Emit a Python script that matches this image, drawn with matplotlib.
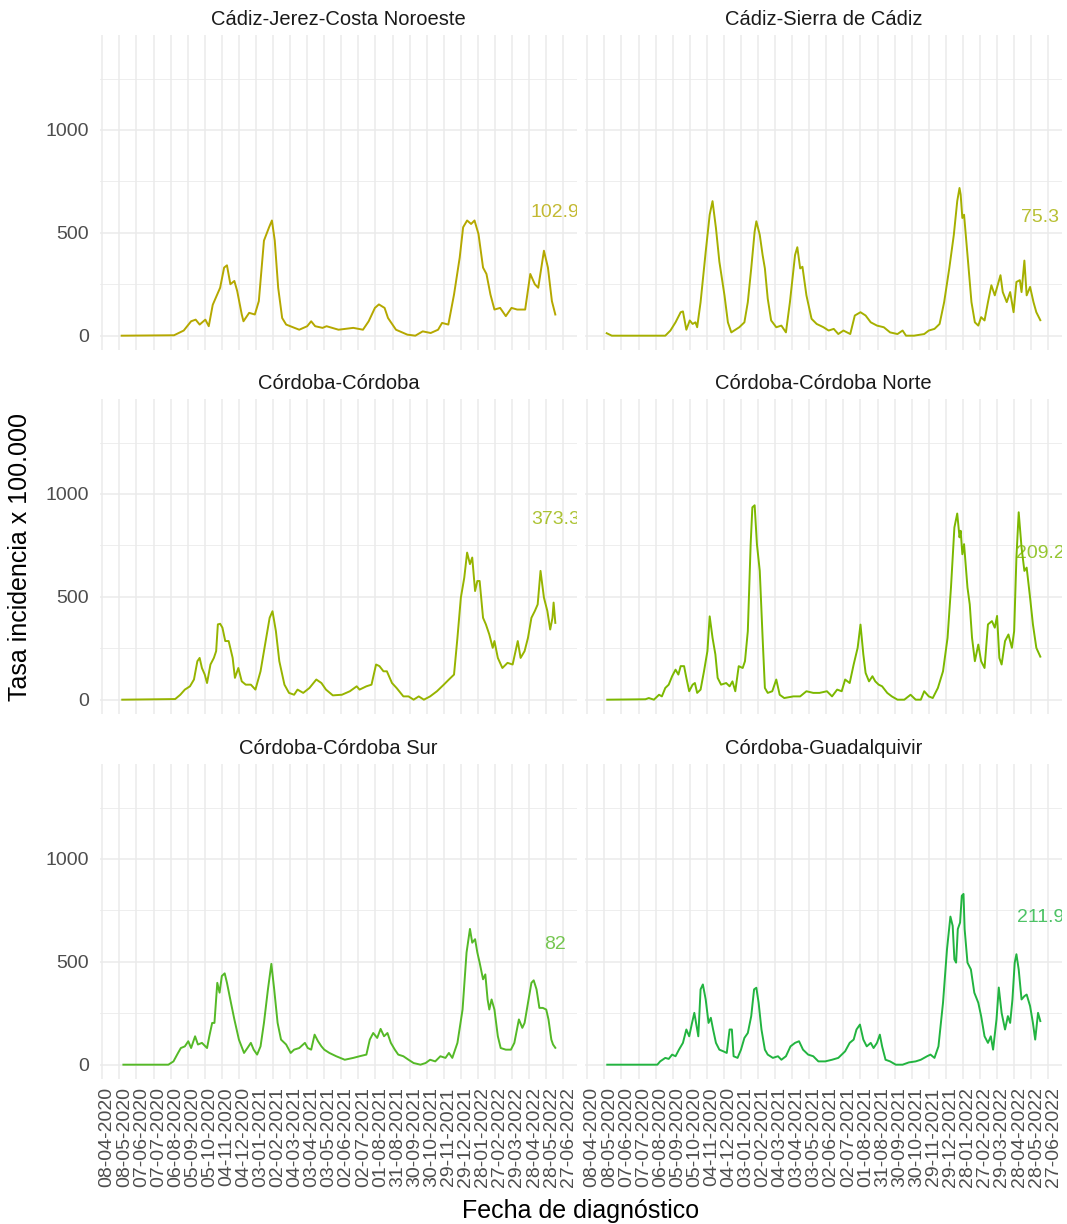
import numpy as np
import pandas as pd
import matplotlib
matplotlib.use("Agg")
import matplotlib.pyplot as plt
import matplotlib.dates as mdates
from matplotlib.transforms import ScaledTranslation

plt.rcParams['font.family'] = ['Liberation Sans', 'DejaVu Sans']

# fecha de referencia: los días se cuentan desde aquí
inicio = np.datetime64('2020-04-08')

distritos = ['Cádiz-Jerez-Costa Noroeste', 'Cádiz-Sierra de Cádiz',
             'Córdoba-Córdoba', 'Córdoba-Córdoba Norte',
             'Córdoba-Córdoba Sur', 'Córdoba-Guadalquivir']
colores = ['#B5A800', '#A6B000', '#97B400', '#7CB800', '#55B927', '#22B440']

etiquetas = ['102.9', '75.3', '373.3', '209.2', '82', '211.9']
etiqueta_y = [597, 573, 874, 713, 583, 714]

fechas_ticks = ['08-04-2020', '08-05-2020', '07-06-2020', '07-07-2020', '06-08-2020',
                '05-09-2020', '05-10-2020', '04-11-2020', '04-12-2020', '03-01-2021',
                '02-02-2021', '04-03-2021', '03-04-2021', '03-05-2021', '02-06-2021',
                '02-07-2021', '01-08-2021', '31-08-2021', '30-09-2021', '30-10-2021',
                '29-11-2021', '29-12-2021', '28-01-2022', '27-02-2022', '29-03-2022',
                '28-04-2022', '28-05-2022', '27-06-2022']

# --- Cádiz-Jerez-Costa Noroeste
dias_jerez = [34, 126, 143, 156, 164, 171, 181, 187, 194, 207, 214, 219, 225, 232, 237,
              245, 248, 258, 268, 275, 284, 293, 298, 303, 309, 316, 323, 346, 360, 367,
              374, 387, 394, 415, 441, 458, 468, 479, 486, 496, 502, 516, 536, 550, 563,
              577, 590, 597, 608, 618, 628, 634, 641, 648, 654, 661, 669, 675, 682, 689,
              699, 709, 719, 729, 743, 752, 760, 766, 776, 783, 790, 796]
tasa_jerez = [0, 2, 25, 70, 78, 54, 78, 46, 150, 233, 331, 342, 250, 266, 217,
              103, 70, 111, 103, 168, 462, 527, 560, 462, 233, 86, 54, 29, 46, 70,
              46, 38, 46, 29, 38, 29, 70, 135, 152, 135, 86, 29, 5, 0, 21,
              13, 29, 62, 54, 200, 380, 527, 560, 543, 560, 494, 331, 300, 200, 127,
              135, 95, 135, 127, 127, 300, 250, 233, 413, 331, 168, 102.9]

# --- Cádiz-Sierra de Cádiz
dias_sierra = [34, 43, 137, 146, 155, 164, 168, 174, 180, 185, 190, 193, 199, 208, 215,
               220, 226, 232, 241, 247, 253, 258, 267, 276, 282, 288, 294, 297, 303, 308,
               312, 317, 323, 332, 341, 349, 356, 365, 369, 374, 378, 385, 394, 403, 415,
               424, 433, 441, 450, 462, 470, 480, 489, 498, 509, 521, 532, 545, 554, 560,
               574, 592, 600, 610, 619, 627, 636, 644, 650, 654, 656, 659, 662, 669, 675,
               681, 687, 692, 698, 704, 710, 716, 721, 726, 730, 737, 743, 749, 754, 760,
               763, 768, 772, 778, 784, 789, 796]
tasa_sierra = [12, 0, 0, 25, 65, 114, 118, 29, 74, 57, 65, 41, 163, 408, 588,
               654, 523, 360, 196, 65, 16, 25, 41, 65, 163, 327, 506, 556, 490, 392,
               327, 180, 74, 41, 49, 16, 163, 392, 430, 327, 335, 196, 82, 57, 41,
               25, 33, 8, 25, 8, 98, 114, 98, 65, 49, 41, 16, 8, 25, 0,
               0, 8, 25, 33, 57, 163, 327, 490, 654, 718, 686, 572, 588, 360, 163,
               65, 49, 90, 74, 163, 245, 196, 245, 294, 212, 163, 212, 114, 261, 270,
               212, 365, 196, 237, 163, 114, 75.3]

# --- Córdoba-Córdoba
dias_cordoba = [35, 128, 137, 145, 154, 161, 167, 171, 175, 180, 184, 190, 196, 200, 203,
                207, 211, 216, 222, 229, 233, 239, 245, 252, 261, 269, 278, 288, 294, 299,
                305, 311, 320, 328, 337, 343, 353, 364, 376, 385, 393, 405, 421, 435, 447,
                452, 464, 473, 481, 487, 494, 500, 509, 517, 529, 538, 547, 556, 565, 576,
                588, 600, 609, 618, 624, 630, 636, 641, 646, 650, 655, 659, 663, 669, 674,
                680, 686, 689, 695, 703, 712, 721, 730, 735, 742, 748, 754, 760, 765, 770,
                776, 782, 787, 791, 793, 796]
tasa_cordoba = [0, 3, 24, 49, 65, 98, 187, 203, 154, 122, 81, 171, 203, 236, 366,
                369, 350, 285, 285, 203, 106, 154, 89, 73, 73, 49, 138, 301, 398, 430,
                333, 187, 73, 33, 24, 49, 33, 57, 98, 81, 49, 21, 24, 41, 65,
                49, 65, 73, 171, 163, 138, 138, 81, 57, 16, 16, 0, 16, 0, 16,
                41, 73, 98, 122, 301, 496, 593, 715, 659, 691, 528, 577, 577, 398, 366,
                317, 252, 285, 203, 154, 179, 171, 285, 203, 236, 301, 398, 431, 463, 626,
                496, 431, 341, 398, 472, 373.3]

# --- Córdoba-Córdoba Norte
dias_norte = [35, 102, 108, 117, 126, 131, 137, 143, 149, 155, 160, 164, 170, 174, 179,
              185, 189, 193, 199, 205, 211, 215, 220, 225, 229, 235, 244, 250, 255, 260,
              266, 273, 277, 282, 287, 290, 294, 298, 303, 308, 312, 317, 325, 332, 338,
              346, 362, 374, 385, 397, 408, 421, 430, 439, 447, 453, 461, 468, 475, 480,
              485, 489, 495, 501, 506, 512, 518, 527, 535, 545, 557, 568, 577, 586, 592,
              600, 607, 616, 625, 633, 639, 645, 650, 654, 656, 659, 662, 668, 672, 676,
              681, 687, 692, 698, 704, 711, 716, 720, 724, 728, 734, 740, 746, 750, 754,
              758, 763, 768, 772, 778, 783, 789, 796]
tasa_norte = [0, 2, 8, 0, 24, 16, 57, 73, 114, 146, 122, 163, 163, 106, 41,
              73, 81, 33, 49, 138, 236, 405, 301, 220, 106, 73, 81, 65, 89, 41,
              163, 154, 187, 333, 756, 935, 945, 756, 626, 301, 57, 33, 41, 98, 24,
              8, 16, 16, 41, 33, 33, 41, 16, 49, 41, 98, 81, 171, 252, 365,
              220, 130, 89, 114, 89, 73, 65, 33, 16, 0, 0, 24, 0, 0, 41,
              16, 8, 57, 138, 301, 545, 837, 905, 789, 821, 707, 756, 545, 463, 301,
              187, 268, 187, 154, 366, 382, 350, 407, 203, 171, 285, 317, 252, 333, 691,
              911, 740, 626, 642, 496, 366, 252, 209.2]

# --- Córdoba-Córdoba Sur
dias_sur = [37, 116, 125, 133, 138, 145, 151, 156, 163, 168, 175, 184, 188, 193, 197,
            202, 206, 210, 215, 219, 226, 232, 240, 249, 255, 261, 266, 272, 278, 284,
            291, 297, 302, 308, 314, 323, 331, 337, 346, 356, 361, 367, 373, 379, 385,
            390, 399, 411, 426, 441, 452, 464, 470, 476, 483, 489, 495, 501, 507, 514,
            520, 529, 538, 547, 559, 568, 576, 585, 594, 603, 609, 615, 624, 633, 640,
            646, 650, 655, 659, 663, 669, 673, 677, 680, 684, 689, 695, 700, 709, 718,
            724, 732, 738, 742, 748, 754, 758, 763, 768, 774, 780, 784, 789, 792, 796]
tasa_sur = [0, 0, 16, 57, 81, 89, 114, 81, 138, 98, 106, 81, 138, 203, 203,
            398, 350, 431, 444, 398, 301, 220, 122, 57, 81, 106, 73, 49, 89, 203,
            366, 490, 366, 203, 122, 98, 57, 73, 81, 106, 81, 73, 146, 114, 89,
            73, 57, 41, 24, 33, 41, 49, 122, 154, 130, 174, 138, 154, 106, 73,
            49, 41, 24, 8, 0, 8, 24, 16, 41, 33, 57, 33, 106, 268, 545,
            660, 593, 610, 545, 496, 415, 439, 317, 268, 317, 268, 138, 81, 73, 73,
            106, 220, 179, 203, 301, 398, 410, 366, 276, 276, 268, 220, 122, 98, 82]

# --- Córdoba-Guadalquivir
dias_guadalquivir = [35, 123, 128, 137, 143, 149, 155, 161, 168, 174, 179, 184, 188, 190, 195,
                     199, 203, 208, 213, 217, 221, 226, 232, 239, 245, 250, 254, 257, 264, 270,
                     276, 282, 288, 293, 297, 301, 306, 312, 317, 326, 335, 341, 349, 357, 365,
                     372, 379, 388, 397, 406, 418, 430, 441, 453, 461, 468, 473, 479, 485, 491,
                     498, 503, 509, 514, 518, 524, 532, 542, 554, 565, 577, 586, 597, 603, 610,
                     617, 625, 632, 638, 642, 645, 648, 651, 655, 658, 661, 663, 668, 674, 680,
                     687, 692, 698, 704, 709, 713, 719, 723, 728, 734, 739, 743, 747, 751, 754,
                     758, 763, 768, 772, 778, 783, 787, 792, 796]
tasa_guadalquivir = [0, 0, 16, 33, 28, 49, 41, 73, 106, 171, 138, 203, 252, 220, 138,
                     366, 390, 317, 203, 228, 171, 106, 73, 65, 57, 171, 171, 41, 33, 73,
                     130, 154, 236, 366, 374, 301, 171, 73, 49, 33, 41, 24, 41, 89, 106,
                     114, 73, 49, 41, 16, 16, 24, 33, 65, 106, 122, 171, 195, 122, 89,
                     106, 81, 106, 146, 89, 24, 16, 0, 0, 11, 16, 24, 41, 49, 33,
                     89, 301, 561, 720, 675, 512, 496, 659, 691, 821, 830, 659, 496, 463, 350,
                     301, 236, 138, 106, 138, 73, 220, 375, 252, 171, 236, 203, 317, 496, 537,
                     463, 317, 333, 341, 285, 203, 122, 252, 211.9]

series = [(dias_jerez, tasa_jerez), (dias_sierra, tasa_sierra),
          (dias_cordoba, tasa_cordoba), (dias_norte, tasa_norte),
          (dias_sur, tasa_sur), (dias_guadalquivir, tasa_guadalquivir)]

W, H = 1067, 1224
fig = plt.figure(figsize=(W / 100, H / 100), dpi=100)

# posiciones de los paneles en píxeles (izquierda, arriba)
cols_px = [100, 585]
rows_px = [35, 399, 764]
pw, ph = 477, 315

ticks = pd.to_datetime(fechas_ticks, format='%d-%m-%Y')

# rango x común (facetas con escalas fijas, expansión del 5%)
todas = np.concatenate([inicio + np.array(d).astype('timedelta64[D]') for d, _ in series])
xmin, xmax = mdates.date2num(todas.min()), mdates.date2num(todas.max())
xpad = 0.05 * (xmax - xmin)
ylim = (-69.6, 1461.6)

for i, (nombre, (dias, tasa)) in enumerate(zip(distritos, series)):
    r, c = divmod(i, 2)
    ax = fig.add_axes([cols_px[c] / W, 1 - (rows_px[r] + ph) / H, pw / W, ph / H])
    fechas = inicio + np.array(dias).astype('timedelta64[D]')
    ax.plot(fechas, tasa, color=colores[i], lw=1.4, solid_joinstyle='round')
    ax.text(fechas[-1], etiqueta_y[i], etiquetas[i], color=colores[i], alpha=0.8,
            fontsize=14, ha='center', va='center', clip_on=True)

    ax.set_xlim(xmin - xpad, xmax + xpad)
    ax.set_ylim(*ylim)
    ax.set_xticks(ticks)
    ax.set_yticks([0, 500, 1000])
    ax.set_yticks([250, 750, 1250], minor=True)
    ax.grid(which='major', color='#EBEBEB', lw=1.1)
    ax.grid(which='minor', axis='y', color='#EBEBEB', lw=0.6)
    ax.set_axisbelow(True)
    for s in ax.spines.values():
        s.set_visible(False)
    ax.tick_params(which='both', length=0)
    ax.tick_params(axis='y', labelsize=14, labelcolor='#4D4D4D', pad=8)
    ax.tick_params(axis='x', labelsize=14, labelcolor='#4D4D4D', pad=6)

    if r == 2:
        ax.set_xticklabels(fechas_ticks, rotation=90, ha='center', va='top')
        off = ScaledTranslation(3.5 / 72, 0, fig.dpi_scale_trans)
        for lbl in ax.get_xticklabels():
            lbl.set_transform(lbl.get_transform() + off)
    else:
        ax.set_xticklabels([])
    if c == 1:
        ax.set_yticklabels([])

    ax.set_title(nombre, fontsize=14.5, color='#1A1A1A', pad=7)

fig.text(581 / W, 1 - 1211 / H, 'Fecha de diagnóstico', fontsize=18,
         ha='center', va='center')
fig.text(20 / W, 1 - 557 / H, 'Tasa incidencia x 100.000', fontsize=18,
         rotation=90, ha='center', va='center')

fig.savefig('out.png', dpi=100, facecolor='white')
